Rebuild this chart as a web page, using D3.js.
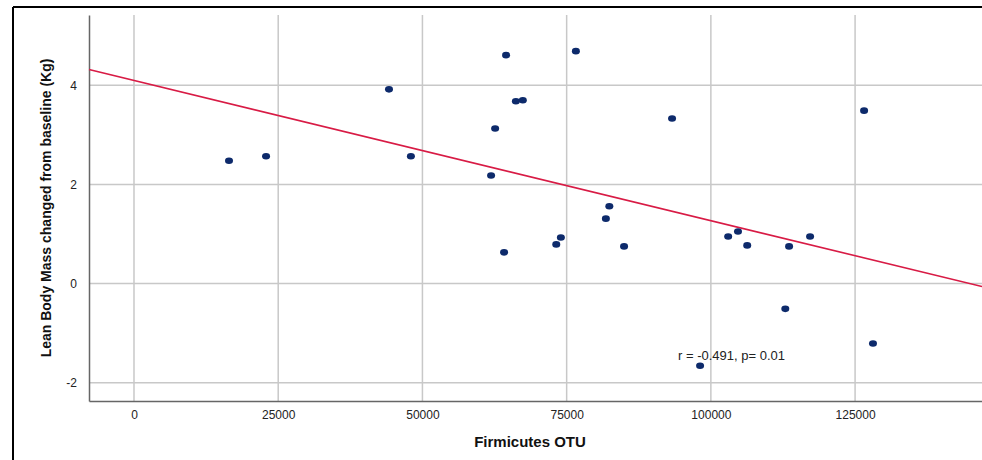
<!DOCTYPE html><html><head><meta charset="utf-8">
<script src="https://cdn.jsdelivr.net/npm/d3@7"></script>
<style>body{margin:0;background:#fff}</style></head><body>
<svg id="c" width="982" height="460"></svg>
<script>
const otu=[16470,22890,44200,48000,61900,62600,64150,64500,66200,67400,73200,74000,76600,81800,82400,84950,93270,98130,103000,104700,106300,112900,113560,117200,126560,128100];
const lbm=[2.48,2.57,3.92,2.57,2.18,3.13,0.63,4.61,3.68,3.70,0.79,0.93,4.69,1.31,1.56,0.75,3.33,-1.66,0.95,1.05,0.77,-0.51,0.75,0.95,3.49,-1.21];
const xTicks=[0,25000,50000,75000,100000,125000];
const yTicks=[-2,0,2,4];
const fitLine=[[-7800,4.32],[147000,-0.06]];
const svg=d3.select("#c");
const L=89,R=982,T=15,B=401;
const x=d3.scaleLinear().domain([-7800,147000]).range([L,R]);
const y=d3.scaleLinear().domain([-2.37,5.42]).range([B,T]);
svg.append("line").attr("x1",13).attr("x2",982).attr("y1",7).attr("y2",7).attr("stroke","#000").attr("stroke-width",2);
svg.append("line").attr("x1",13).attr("x2",13).attr("y1",7).attr("y2",460).attr("stroke","#000").attr("stroke-width",2);
const g=svg.append("g");
g.selectAll(".gx").data(xTicks).join("line").attr("x1",d=>x(d)).attr("x2",d=>x(d)).attr("y1",T).attr("y2",B).attr("stroke","#c8c8c8").attr("stroke-width",1.5);
g.selectAll(".gy").data(yTicks).join("line").attr("y1",d=>y(d)).attr("y2",d=>y(d)).attr("x1",L).attr("x2",R).attr("stroke","#c8c8c8").attr("stroke-width",1.5);
svg.append("g").attr("transform",`translate(0,${B})`).call(d3.axisBottom(x).tickValues(xTicks).tickSize(0).tickPadding(9).tickFormat(d=>String(d)))
 .call(a=>{a.select(".domain").attr("stroke","#666").attr("stroke-width",1.5);a.selectAll("text").attr("font-family","Arial, Liberation Sans").attr("font-size",12).attr("fill","#222");});
svg.append("g").attr("transform",`translate(${L},0)`).call(d3.axisLeft(y).tickValues(yTicks).tickSize(0).tickPadding(12).tickFormat(d=>String(d)))
 .call(a=>{a.select(".domain").attr("stroke","#666").attr("stroke-width",1.5);a.selectAll("text").attr("font-family","Arial, Liberation Sans").attr("font-size",12).attr("fill","#222");});
svg.append("line").attr("x1",x(fitLine[0][0])).attr("y1",y(fitLine[0][1])).attr("x2",x(fitLine[1][0])).attr("y2",y(fitLine[1][1])).attr("stroke","#d81b45").attr("stroke-width",1.6);
svg.selectAll(".pt").data(otu).join("ellipse").attr("cx",d=>x(d)).attr("cy",(d,i)=>y(lbm[i])).attr("rx",4).attr("ry",3.3).attr("fill","#0d2a6b");
svg.append("text").attr("x",678).attr("y",360).attr("font-family","Arial, Liberation Sans").attr("font-size",13).attr("fill","#222").text("r = -0.491, p= 0.01");
svg.append("text").attr("x",530).attr("y",447).attr("text-anchor","middle").attr("font-family","Arial, Liberation Sans").attr("font-weight","bold").attr("font-size",15).attr("fill","#111").text("Firmicutes OTU");
svg.append("text").attr("transform",`translate(51,208) rotate(-90)`).attr("text-anchor","middle").attr("font-family","Arial, Liberation Sans").attr("font-weight","bold").attr("font-size",14).attr("fill","#111").text("Lean Body Mass changed from baseline (Kg)");
</script></body></html>
